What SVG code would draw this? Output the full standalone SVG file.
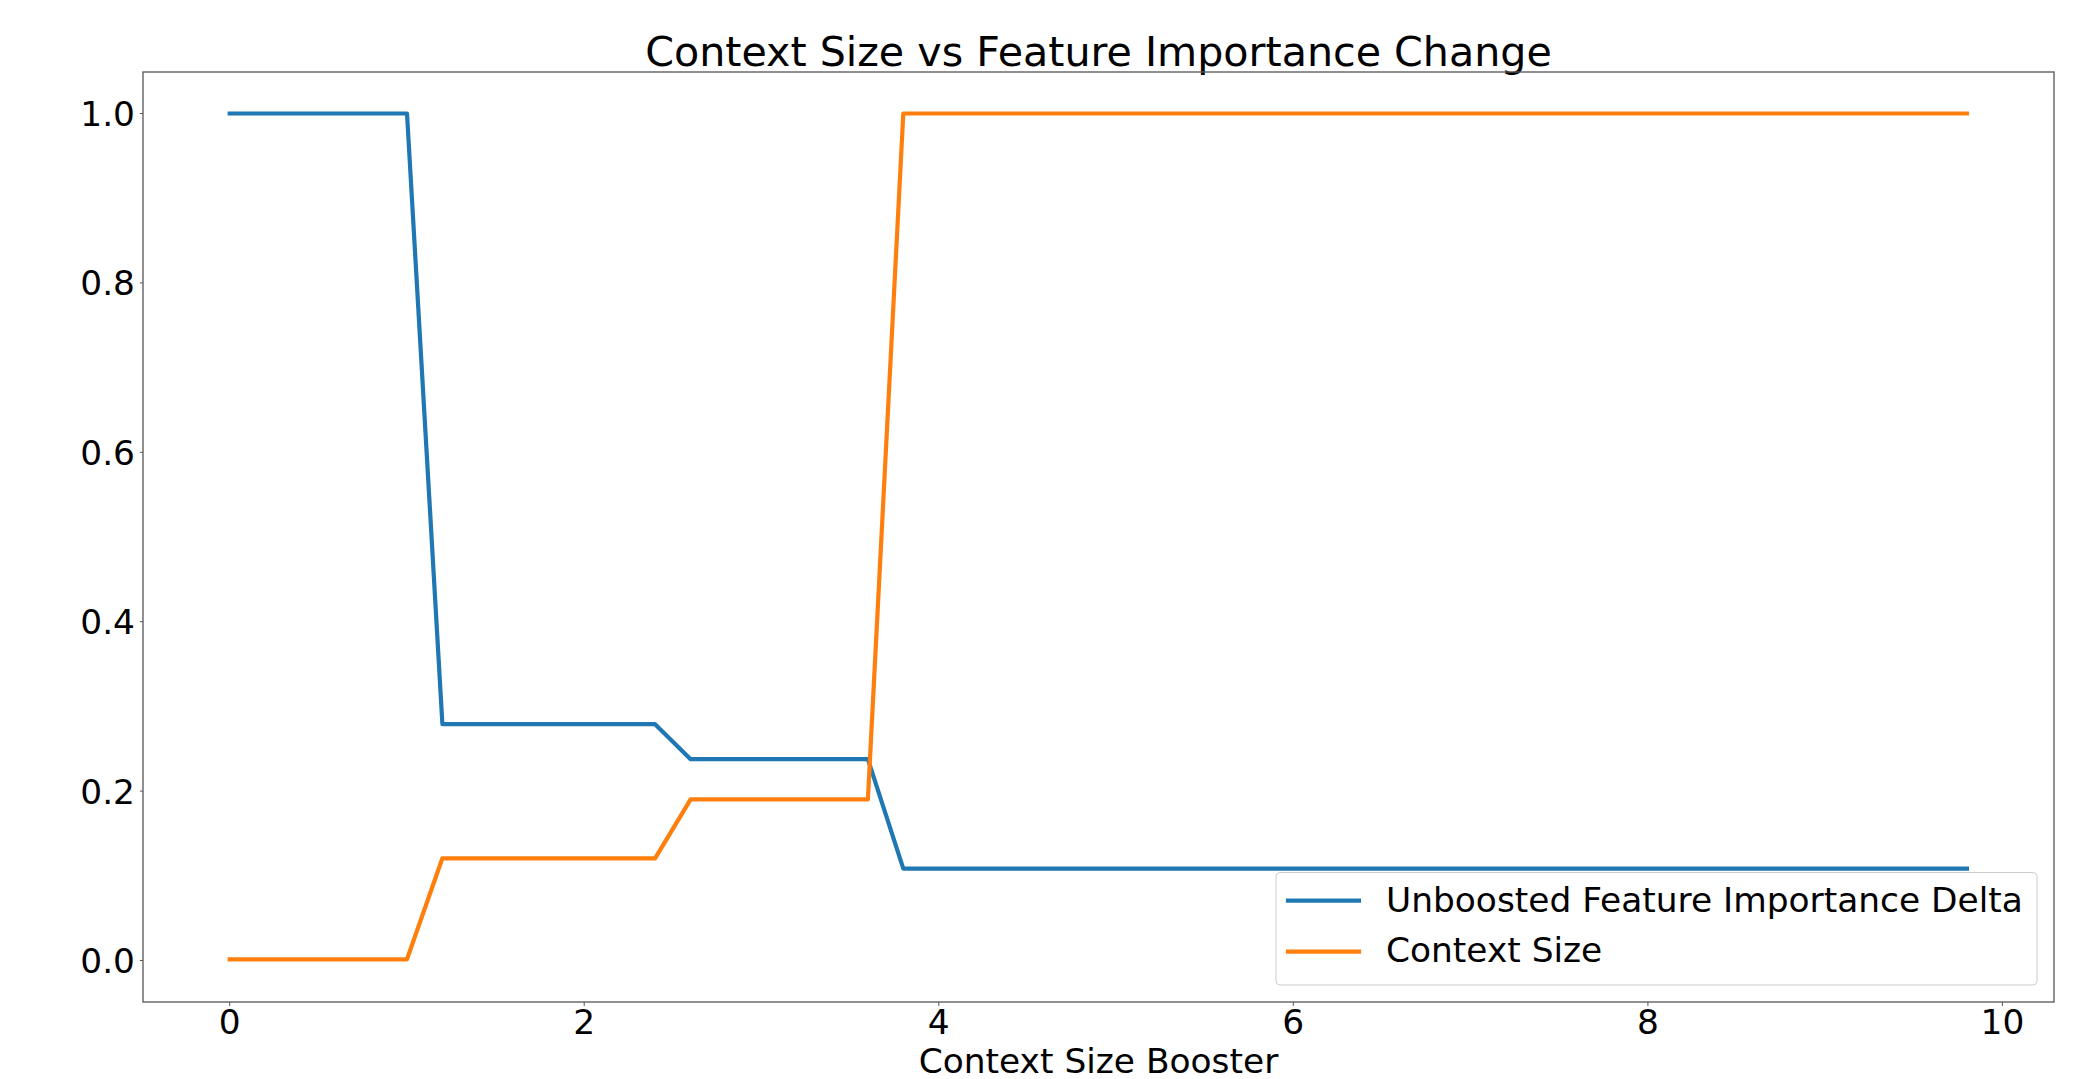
<svg xmlns="http://www.w3.org/2000/svg" width="2098" height="1079" viewBox="0 0 2098 1079">
  <style>
    text { font-family: "DejaVu Sans", "Liberation Sans", sans-serif; fill: #000; }
    .tick { font-size: 34.4px; }
    .ytick { text-anchor: end; }
    .xtick { text-anchor: middle; }
    .spine { stroke: #555; stroke-width: 1.3; fill: none; }
    .tickmark { stroke: #555; stroke-width: 1; }
    .series { fill: none; stroke-width: 4.2; stroke-linejoin: round; stroke-linecap: square; }
    .blue { stroke: #1f77b4; }
    .orange { stroke: #ff7f0e; }
  </style>
  <rect x="0" y="0" width="2098" height="1079" fill="#ffffff"/>

  <g id="title">
    <text x="1098.5" y="65.5" font-size="41.2" text-anchor="middle">Context Size vs Feature Importance Change</text>
  </g>

  <g id="axes">
    <rect class="spine" x="143" y="72" width="1911" height="930"/>
    <g id="yticks">
      <line class="tickmark" x1="140" y1="960.5" x2="143" y2="960.5"/>
      <line class="tickmark" x1="140" y1="791.1" x2="143" y2="791.1"/>
      <line class="tickmark" x1="140" y1="621.7" x2="143" y2="621.7"/>
      <line class="tickmark" x1="140" y1="452.3" x2="143" y2="452.3"/>
      <line class="tickmark" x1="140" y1="282.9" x2="143" y2="282.9"/>
      <line class="tickmark" x1="140" y1="113.5" x2="143" y2="113.5"/>
      <text class="tick ytick" x="135" y="973">0.0</text>
      <text class="tick ytick" x="135" y="803.6">0.2</text>
      <text class="tick ytick" x="135" y="634.2">0.4</text>
      <text class="tick ytick" x="135" y="464.8">0.6</text>
      <text class="tick ytick" x="135" y="295.4">0.8</text>
      <text class="tick ytick" x="135" y="126">1.0</text>
    </g>
    <g id="xticks">
      <line class="tickmark" x1="229.7" y1="1002" x2="229.7" y2="1006"/>
      <line class="tickmark" x1="584.2" y1="1002" x2="584.2" y2="1006"/>
      <line class="tickmark" x1="938.8" y1="1002" x2="938.8" y2="1006"/>
      <line class="tickmark" x1="1293.3" y1="1002" x2="1293.3" y2="1006"/>
      <line class="tickmark" x1="1647.9" y1="1002" x2="1647.9" y2="1006"/>
      <line class="tickmark" x1="2002.4" y1="1002" x2="2002.4" y2="1006"/>
      <text class="tick xtick" x="229.7" y="1034">0</text>
      <text class="tick xtick" x="584.2" y="1034">2</text>
      <text class="tick xtick" x="938.8" y="1034">4</text>
      <text class="tick xtick" x="1293.3" y="1034">6</text>
      <text class="tick xtick" x="1647.9" y="1034">8</text>
      <text class="tick xtick" x="2002.4" y="1034">10</text>
    </g>
    <g id="xlabel">
      <text x="1098.5" y="1072.5" font-size="34.4" text-anchor="middle">Context Size Booster</text>
    </g>
  </g>

  <g id="connectors">
    <polyline id="unboosted" class="series blue" points="229.7,113.5 407.0,113.5 442.4,724.2 655.1,724.2 690.6,759.2 867.9,759.2 903.3,868.6 1967.0,868.6"/>
    <polyline id="context-size" class="series orange" points="229.7,959.3 407.0,959.3 442.4,858.3 655.1,858.3 690.6,799.3 867.9,799.3 903.3,113.5 1967.0,113.5"/>
  </g>

  <g id="legend">
    <rect x="1276" y="872.5" width="761" height="112.5" rx="4" ry="4" fill="#ffffff" fill-opacity="0.8" stroke="#cccccc" stroke-width="1"/>
    <line class="series blue" x1="1288" y1="900.7" x2="1359" y2="900.7"/>
    <text x="1386" y="912.3" font-size="34.4">Unboosted Feature Importance Delta</text>
    <line class="series orange" x1="1288" y1="951.7" x2="1359" y2="951.7"/>
    <text x="1386" y="962.3" font-size="34.4">Context Size</text>
  </g>
</svg>
